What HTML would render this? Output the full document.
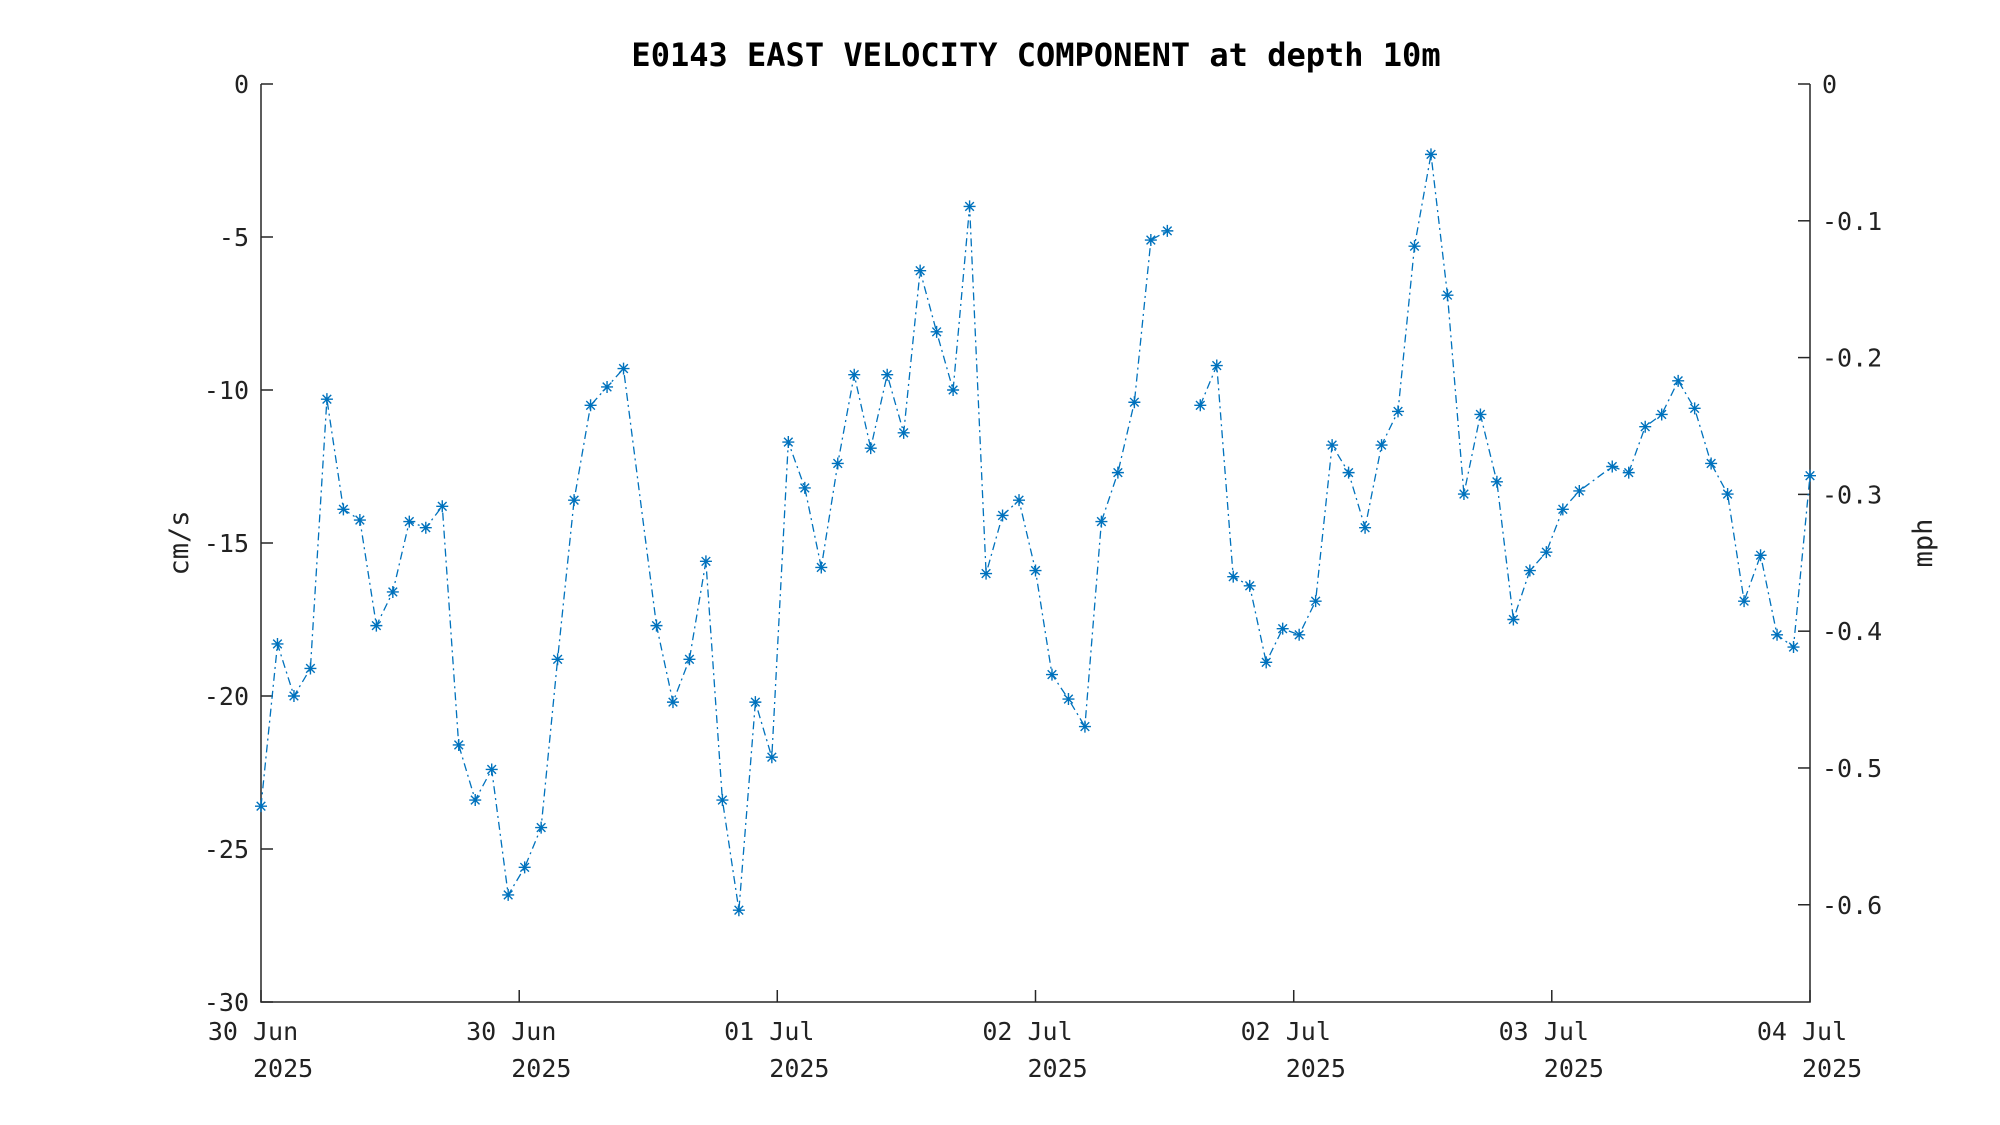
<!DOCTYPE html>
<html><head><meta charset="utf-8"><style>
html,body{margin:0;padding:0;background:#fff;}
svg{display:block;font-family:"DejaVu Sans Mono","Liberation Mono",monospace;}
</style></head><body>
<svg id="chart" width="2000" height="1125" viewBox="0 0 2000 1125" xmlns="http://www.w3.org/2000/svg">
<rect width="2000" height="1125" fill="#fff"/>
<text x="1036" y="66" text-anchor="middle" font-size="32" font-weight="bold" fill="#000">E0143 EAST VELOCITY COMPONENT at depth 10m</text>
<text transform="translate(188,543) rotate(-90)" text-anchor="middle" font-size="27" fill="#222">cm/s</text>
<text transform="translate(1932,543) rotate(-90)" text-anchor="middle" font-size="27" fill="#222">mph</text>
<g id="axes"></g>
<g id="series"></g>
</svg>
<script>
const hours=[0,1,2,3,4,5,6,7,8,9,10,11,12,13,14,15,16,17,18,19,20,21,22,24,25,26,27,28,29,30,31,32,33,34,35,36,37,38,39,40,41,42,43,44,45,46,47,48,49,50,51,52,53,54,55,56,57,58,59,60,61,62,63,64,65,66,67,68,69,70,71,72,73,74,75,76,77,78,79,80,82,83,84,85,86,87,88,89,90,91,92,93,94];
const values=[-23.6,-18.3,-20.0,-19.1,-10.3,-13.9,-14.25,-17.7,-16.6,-14.3,-14.5,-13.8,-21.6,-23.4,-22.4,-26.5,-25.6,-24.3,-18.8,-13.6,-10.5,-9.9,-9.3,-17.7,-20.2,-18.8,-15.6,-23.4,-27.0,-20.2,-22.0,-11.7,-13.2,-15.8,-12.4,-9.5,-11.9,-9.5,-11.4,-6.1,-8.1,-10.0,-4.0,-16.0,-14.1,-13.6,-15.9,-19.3,-20.1,-21.0,-14.3,-12.7,-10.4,-5.1,-4.8,NaN,-10.5,-9.2,-16.1,-16.4,-18.9,-17.8,-18.0,-16.9,-11.8,-12.7,-14.5,-11.8,-10.7,-5.3,-2.3,-6.9,-13.4,-10.8,-13.0,-17.5,-15.9,-15.3,-13.9,-13.3,-12.5,-12.7,-11.2,-10.8,-9.7,-10.6,-12.4,-13.4,-16.9,-15.4,-18.0,-18.4,-12.8];
const yTicks=[0,-5,-10,-15,-20,-25,-30];
const mphTicks=[0,-0.1,-0.2,-0.3,-0.4,-0.5,-0.6];
const xTickHours=[0,15.67,31.33,47,62.67,78.33,94];
const xTickLabels=["30 Jun","30 Jun","01 Jul","02 Jul","02 Jul","03 Jul","04 Jul"];
const NS="http://www.w3.org/2000/svg";
const L=261,R=1810,T=84,B=1002,HMAX=94;
const xs=h=>L+(h/HMAX)*(R-L);
const ys=v=>T+(-v/30)*(B-T);
const ymph=m=>ys(m/0.0223694);
const ax=document.getElementById('axes'),se=document.getElementById('series');
function mk(tag,attrs,parent){const e=document.createElementNS(NS,tag);for(const k in attrs)e.setAttribute(k,attrs[k]);parent.appendChild(e);return e;}
let e=mk('path',{d:`M${L},${T}V${B}H${R}V${T}`,fill:'none',stroke:'#262626','stroke-width':1.5},ax);


yTicks.forEach(v=>{const y=ys(v);
 mk('line',{x1:L,x2:L+12,y1:y,y2:y,stroke:'#262626','stroke-width':1.5},ax);
 const t=mk('text',{x:L-12,y:y+9,'text-anchor':'end','font-size':25,fill:'#222'},ax);t.textContent=String(v);
 
 
});
mphTicks.forEach(m=>{const y=ymph(m);
 mk('line',{x1:R-12,x2:R,y1:y,y2:y,stroke:'#262626','stroke-width':1.5},ax);
 const t=mk('text',{x:R+12,y:y+9,'font-size':25,fill:'#222'},ax);t.textContent=m===0?'0':m.toFixed(1);
 
 
});
xTickHours.forEach((h,i)=>{const x=xs(h);
 mk('line',{x1:x,x2:x,y1:B,y2:B-12,stroke:'#262626','stroke-width':1.5},ax);
 const t=mk('text',{x:x-8,y:B+38,'text-anchor':'middle','font-size':25,fill:'#222'},ax);t.textContent=xTickLabels[i];
 
 
 const t2=mk('text',{x:x-8,y:B+75,'text-anchor':'start','font-size':25,fill:'#222'},ax);t2.textContent='2025';
 
 
});
let d='',pen=false;
hours.forEach((h,i)=>{const v=values[i];if(isNaN(v)){pen=false;return;}d+=(pen?'L':'M')+xs(h).toFixed(1)+','+ys(v).toFixed(1);pen=true;});
const line=mk('path',{d:d,fill:'none',stroke:'#0072BD','stroke-width':1.3,'stroke-dasharray':'8,4,2,4'},se);


hours.forEach((h,i)=>{const v=values[i];if(isNaN(v))return;const x=xs(h),y=ys(v),s=6,s2=4.3;
 const g=mk('path',{d:`M${x-s},${y}H${x+s}M${x},${y-s}V${y+s}M${x-s2},${y-s2}L${x+s2},${y+s2}M${x-s2},${y+s2}L${x+s2},${y-s2}`,stroke:'#0072BD','stroke-width':1.4,fill:'none'},se);
 
 
});
</script>
</body></html>
